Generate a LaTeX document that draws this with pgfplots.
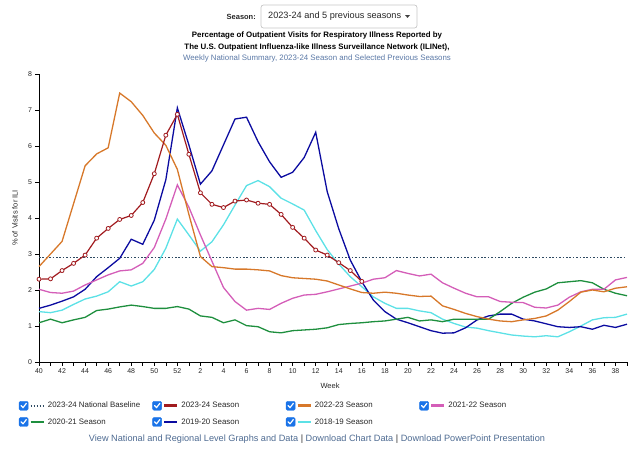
\documentclass[border=0pt]{standalone}
\usepackage{fontspec}
\setmainfont{Liberation Sans}
\usepackage{pgfplots}
\usepackage{pgfplotstable}
\pgfplotsset{compat=1.18}
\definecolor{cRed}{HTML}{A11B1F}
\definecolor{cOrange}{HTML}{D7782A}
\definecolor{cPink}{HTML}{D45EB8}
\definecolor{cGreen}{HTML}{1E8F3E}
\definecolor{cBlue}{HTML}{0B0BA0}
\definecolor{cCyan}{HTML}{5CE1E6}
\definecolor{cBase}{HTML}{2E4A62}
\definecolor{cbBlue}{HTML}{1A73E8}
\definecolor{linkc}{HTML}{4D6A91}
\definecolor{subc}{HTML}{5A78A6}

\pgfplotstableread{
i s2223 s2122 s2021 s1920 s1819
0 2.65 2.02 1.09 1.49 1.40
1 3.00 1.93 1.19 1.58 1.37
2 3.35 1.91 1.09 1.69 1.44
3 4.40 1.97 1.17 1.81 1.60
4 5.45 2.14 1.24 2.02 1.75
5 5.78 2.28 1.43 2.37 1.83
6 5.95 2.42 1.47 2.62 1.95
7 7.47 2.53 1.53 2.88 2.23
8 7.23 2.56 1.58 3.41 2.11
9 6.85 2.74 1.54 3.27 2.23
10 6.36 3.18 1.49 3.94 2.57
11 6.02 3.97 1.49 5.06 3.16
12 5.35 4.92 1.54 7.06 3.97
13 4.10 4.30 1.47 6.03 3.53
14 2.93 3.53 1.28 4.94 3.08
15 2.65 2.80 1.24 5.31 3.34
16 2.62 2.07 1.09 6.03 3.81
17 2.58 1.68 1.17 6.75 4.36
18 2.58 1.44 1.01 6.80 4.90
19 2.56 1.49 0.98 6.12 5.04
20 2.53 1.46 0.84 5.56 4.87
21 2.40 1.63 0.81 5.13 4.55
22 2.34 1.77 0.87 5.27 4.39
23 2.32 1.86 0.89 5.68 4.22
24 2.30 1.88 0.91 6.38 3.65
25 2.25 1.95 0.95 4.73 3.12
26 2.14 2.03 1.04 3.70 2.72
27 2.03 2.11 1.07 2.83 2.37
28 1.93 2.19 1.09 2.23 2.09
29 1.91 2.30 1.12 1.72 1.81
30 1.94 2.34 1.14 1.40 1.63
31 1.91 2.54 1.19 1.19 1.49
32 1.86 2.46 1.24 1.09 1.49
33 1.82 2.39 1.14 0.98 1.42
34 1.83 2.44 1.17 0.87 1.37
35 1.56 2.20 1.12 0.80 1.19
36 1.46 2.05 1.19 0.81 1.07
37 1.35 1.91 1.19 0.95 0.97
38 1.26 1.81 1.19 1.17 0.94
39 1.19 1.81 1.19 1.28 0.87
40 1.14 1.68 1.40 1.33 0.81
41 1.12 1.66 1.63 1.33 0.75
42 1.17 1.65 1.80 1.19 0.72
43 1.21 1.52 1.94 1.14 0.70
44 1.28 1.50 2.03 1.06 0.73
45 1.44 1.58 2.20 0.98 0.70
46 1.68 1.80 2.23 0.96 0.84
47 1.94 1.95 2.26 0.98 1.00
48 2.00 2.02 2.20 0.91 1.17
49 1.95 2.02 2.02 1.02 1.23
50 2.05 2.28 1.91 0.96 1.24
51 2.09 2.35 1.84 1.05 1.33
}\seasons

\pgfplotstableread{
i v
0 2.30
1 2.31
2 2.54
3 2.74
4 2.97
5 3.44
6 3.71
7 3.96
8 4.07
9 4.43
10 5.23
11 6.30
12 6.88
13 5.77
14 4.70
15 4.38
16 4.29
17 4.47
18 4.50
19 4.41
20 4.38
21 4.10
22 3.74
23 3.44
24 3.11
25 2.97
26 2.76
27 2.54
28 2.24
}\current

\pgfplotsset{
  cbleg/.style={legend image code/.code={
    \fill[cbBlue,rounded corners=1.2bp,solid] (0bp,-4.5bp) rectangle (9bp,4.5bp);
    \draw[white,line width=1.2bp,solid,line cap=round,line join=round] (2bp,0.2bp) -- (3.9bp,-1.9bp) -- (7.2bp,2.4bp);
    \draw[#1] (11.5bp,0bp) -- (24.5bp,0bp);
  }}
}

\begin{document}
\begin{tikzpicture}[x=1bp,y=1bp]
\path[use as bounding box] (0bp,0bp) rectangle (634bp,454bp);
% header
\node[anchor=east, font=\bfseries\fontsize{7.5}{9}\selectfont, text=black!85, inner sep=0] at (256bp,437.5bp) {Season:};
\draw[black!22, rounded corners=2.5bp, line width=0.7bp] (261bp,426bp) rectangle (417bp,449bp);
\node[anchor=west, font=\fontsize{9.2}{11}\selectfont, text=black!85, inner sep=0] at (268bp,437.5bp) {2023-24 and 5 previous seasons};
\fill[black!75] (405bp,438.8bp) -- (410bp,438.8bp) -- (407.5bp,436.2bp) -- cycle;
\node[font=\bfseries\fontsize{7.9}{9}\selectfont, inner sep=0] at (317bp,419bp) {Percentage of Outpatient Visits for Respiratory Illness Reported by};
\node[font=\bfseries\fontsize{7.9}{9}\selectfont, inner sep=0] at (317bp,407bp) {The U.S. Outpatient Influenza-like Illness Surveillance Network (ILINet),};
\node[font=\fontsize{7.9}{9}\selectfont, text=subc, inner sep=0] at (317bp,396bp) {Weekly National Summary, 2023-24 Season and Selected Previous Seasons};
\node[font=\fontsize{9.2}{11}\selectfont, text=linkc, inner sep=0] at (317bp,15bp) {View National and Regional Level Graphs and Data \textcolor{black!80}{|} Download Chart Data \textcolor{black!80}{|} Download PowerPoint Presentation};

\begin{axis}[
  at={(39bp,92bp)}, anchor=south west,
  scale only axis, width=588bp, height=288bp,
  xmin=0, xmax=51, ymin=0, ymax=8,
  axis x line*=bottom, axis y line*=left,
  axis line style={black, line width=0.9bp},
  xtick={0,2,...,50},
  xticklabels={40,42,44,46,48,50,52,2,4,6,8,10,12,14,16,18,20,22,24,26,28,30,32,34,36,38},
  minor xtick={0,...,51},
  ytick={0,...,8},
  tick align=outside,
  major tick length=3.5bp, minor tick length=3.5bp,
  tick style={black, line width=0.6bp},
  ticklabel style={font=\fontsize{7}{8}\selectfont, text=black!85},
  /pgf/number format/assume math mode=true,
  xlabel={Week},
  ylabel={\% of Visits for ILI},
  xlabel style={font=\fontsize{7.5}{9}\selectfont, text=black!85, at={(axis description cs:0.495,-0.083)}, anchor=center},
  ylabel style={font=\fontsize{7.5}{9}\selectfont, text=black!85, at={(axis description cs:-0.041,0.5)}, anchor=center},
  clip=false,
  legend columns=4,
  legend style={at={(axis description cs:-0.0345,-0.135)}, anchor=north west, draw=none, fill=none,
    inner sep=0pt, row sep=6.8bp,
    font=\fontsize{7.9}{9}\selectfont,
    nodes={inner sep=0pt, text height=6bp, text depth=1.6bp, text=black!85},
    /tikz/every odd column/.style={column sep=3bp},
    /tikz/every even column/.style={column sep=0bp}},
  legend cell align=left,
]
\addplot[forget plot, cBase, line width=1.6bp, dash pattern=on 1.6bp off 1.8bp] coordinates {(0,2.9) (51,2.9)};
\addplot[forget plot, cCyan, line width=1.3bp] table[x=i, y=s1819] {\seasons};
\addplot[forget plot, cBlue, line width=1.3bp] table[x=i, y=s1920] {\seasons};
\addplot[forget plot, cGreen, line width=1.3bp] table[x=i, y=s2021] {\seasons};
\addplot[forget plot, cPink, line width=1.3bp] table[x=i, y=s2122] {\seasons};
\addplot[forget plot, cOrange, line width=1.3bp] table[x=i, y=s2223] {\seasons};
\addplot[forget plot, cRed, line width=1.2bp, mark=*, mark size=2bp, mark options={fill=white, draw=cRed, line width=0.8bp}] table[x=i, y=v] {\current};

\addlegendimage{cbleg={cBase, line width=1.5bp, dash pattern=on 1.3bp off 1.7bp}}
\addlegendentry{\makebox[104.5bp][l]{2023-24 National Baseline}}
\addlegendimage{cbleg={cRed, line width=2.6bp}}
\addlegendentry{\makebox[104.5bp][l]{2023-24 Season}}
\addlegendimage{cbleg={cOrange, line width=2.6bp}}
\addlegendentry{\makebox[104.5bp][l]{2022-23 Season}}
\addlegendimage{cbleg={cPink, line width=2.6bp}}
\addlegendentry{\makebox[104.5bp][l]{2021-22 Season}}
\addlegendimage{cbleg={cGreen, line width=2.6bp}}
\addlegendentry{\makebox[104.5bp][l]{2020-21 Season}}
\addlegendimage{cbleg={cBlue, line width=2.6bp}}
\addlegendentry{\makebox[104.5bp][l]{2019-20 Season}}
\addlegendimage{cbleg={cCyan, line width=2.6bp}}
\addlegendentry{\makebox[104.5bp][l]{2018-19 Season}}
\end{axis}
\end{tikzpicture}
\end{document}
